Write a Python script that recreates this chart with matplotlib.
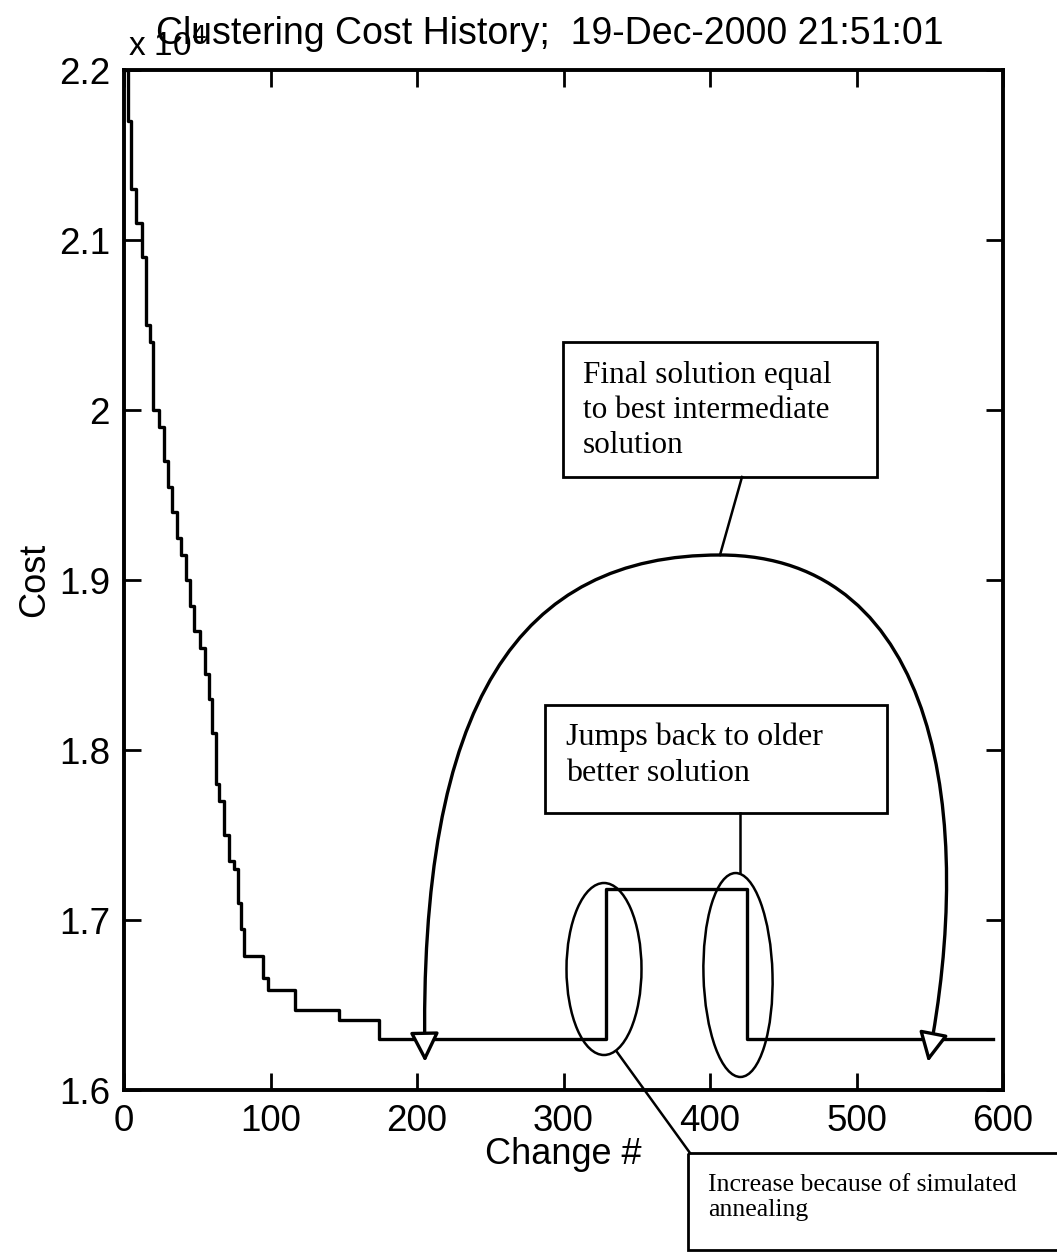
import matplotlib
matplotlib.use('Agg')
import matplotlib.pyplot as plt
from matplotlib.patches import Rectangle, Ellipse, FancyArrowPatch
from matplotlib.lines import Line2D
from matplotlib.path import Path
from matplotlib.transforms import Affine2D
from matplotlib.ticker import FuncFormatter

# change number where the cost steps, and the cost after that change
change = [1, 3, 5, 8, 12, 15, 18, 20, 24, 27, 30, 33, 36, 39, 42, 45, 48, 52, 55,
          58, 60, 63, 65, 68, 72, 75, 78, 80, 82, 95, 98, 117, 147, 174, 329, 425, 593]
cost = [2.20, 2.17, 2.13, 2.11, 2.09, 2.05, 2.04, 2.00, 1.99, 1.97, 1.955, 1.94,
        1.925, 1.915, 1.90, 1.885, 1.87, 1.86, 1.845, 1.83, 1.81, 1.78, 1.77, 1.75,
        1.735, 1.73, 1.71, 1.695, 1.679, 1.666, 1.659, 1.647, 1.641, 1.630, 1.718,
        1.630, 1.630]
cost = [c * 1e4 for c in cost]

x_ticks = [0, 100, 200, 300, 400, 500, 600]
y_ticks = [16000, 17000, 18000, 19000, 20000, 21000, 22000]

title = 'Clustering Cost History;  19-Dec-2000 21:51:01'
note_final = 'Final solution equal\nto best intermediate\nsolution'
note_jump = 'Jumps back to older\nbetter solution'
note_anneal = 'Increase because of simulated\nannealing'

W, H = 1057, 1252
fig = plt.figure(figsize=(W / 100, H / 100), dpi=100)
fig.patch.set_facecolor('white')

# axes placed in pixel units of the page
left, right, top, bottom = 124, 1003, 70, 1090
ax = fig.add_axes([left / W, 1 - bottom / H, (right - left) / W, (bottom - top) / H])

ax.step(change, cost, where='post', color='black', linewidth=2.4)

ax.set_xlim(0, 600)
ax.set_ylim(16000, 22000)
ax.set_xticks(x_ticks)
ax.set_yticks(y_ticks)
ax.yaxis.set_major_formatter(FuncFormatter(lambda v, p: f'{v / 1e4:g}'))

sans = 'Liberation Sans'
serif = 'Liberation Serif'
for lab in ax.get_xticklabels() + ax.get_yticklabels():
    lab.set_fontfamily(sans)
    lab.set_fontsize(26.5)
ax.tick_params(direction='in', length=12, width=2, top=True, right=True, pad=10)
ax.tick_params(axis='x', pad=10)
for s in ax.spines.values():
    s.set_linewidth(2.8)

ax.set_xlabel('Change #', fontfamily=sans, fontsize=26, labelpad=-1)
ax.set_ylabel('Cost', fontfamily=sans, fontsize=26, labelpad=5)

# title and the MATLAB style exponent that sits under it (they overlap in the original)
fig.text(550 / W, 1 - 34 / H, title, ha='center', va='center', fontfamily=sans, fontsize=27)
fig.text(128 / W, 1 - 46 / H, r'x 10$^4$', ha='left', va='center', fontfamily=sans, fontsize=24)

# transform for annotation shapes given in page pixels (y down)
pix = Affine2D().scale(1 / W, -1 / H).translate(0, 1) + fig.transFigure

def box(x0, y0, x1, y1):
    fig.add_artist(Rectangle((x0, y0), x1 - x0, y1 - y0, transform=pix,
                             fill=False, edgecolor='black', linewidth=2, clip_on=False))

def line(x0, y0, x1, y1):
    fig.add_artist(Line2D([x0, x1], [y0, y1], transform=pix, color='black', linewidth=1.8))

# boxes with notes
box(563, 342, 877, 477)
fig.text(583 / W, 1 - 361 / H, note_final, ha='left', va='top', fontfamily=serif,
         fontsize=22.5, linespacing=1.28)
box(545, 705, 887, 813)
fig.text(566 / W, 1 - 722 / H, note_jump, ha='left', va='top', fontfamily=serif,
         fontsize=23, linespacing=1.35)
box(688, 1153, 1070, 1250)
fig.text(708 / W, 1 - 1174 / H, note_anneal, ha='left', va='top', fontfamily=serif,
         fontsize=18.5, linespacing=1.15)

# ellipses around the jumps
fig.add_artist(Ellipse((604, 969), 75, 172, transform=pix, fill=False,
                       edgecolor='black', linewidth=1.8))
fig.add_artist(Ellipse((738, 975), 69, 204, angle=-1.5, transform=pix, fill=False,
                       edgecolor='black', linewidth=1.8))

# connectors
line(742, 477, 720, 555)
line(740, 813, 740, 872)
line(617, 1052, 690, 1153)

# big arc with arrow heads at both ends
arc = Path([(425, 1062), (418, 700), (520, 555), (720, 555),
            (940, 555), (975, 820), (928, 1062)],
           [Path.MOVETO, Path.CURVE4, Path.CURVE4, Path.CURVE4,
            Path.CURVE4, Path.CURVE4, Path.CURVE4])
fig.add_artist(FancyArrowPatch(path=arc, transform=pix,
                               arrowstyle='<|-|>,head_length=1.0,head_width=0.5',
                               mutation_scale=18, shrinkA=0, shrinkB=0,
                               facecolor='white', edgecolor='black', linewidth=2.4))

fig.savefig('out.png', dpi=100)
